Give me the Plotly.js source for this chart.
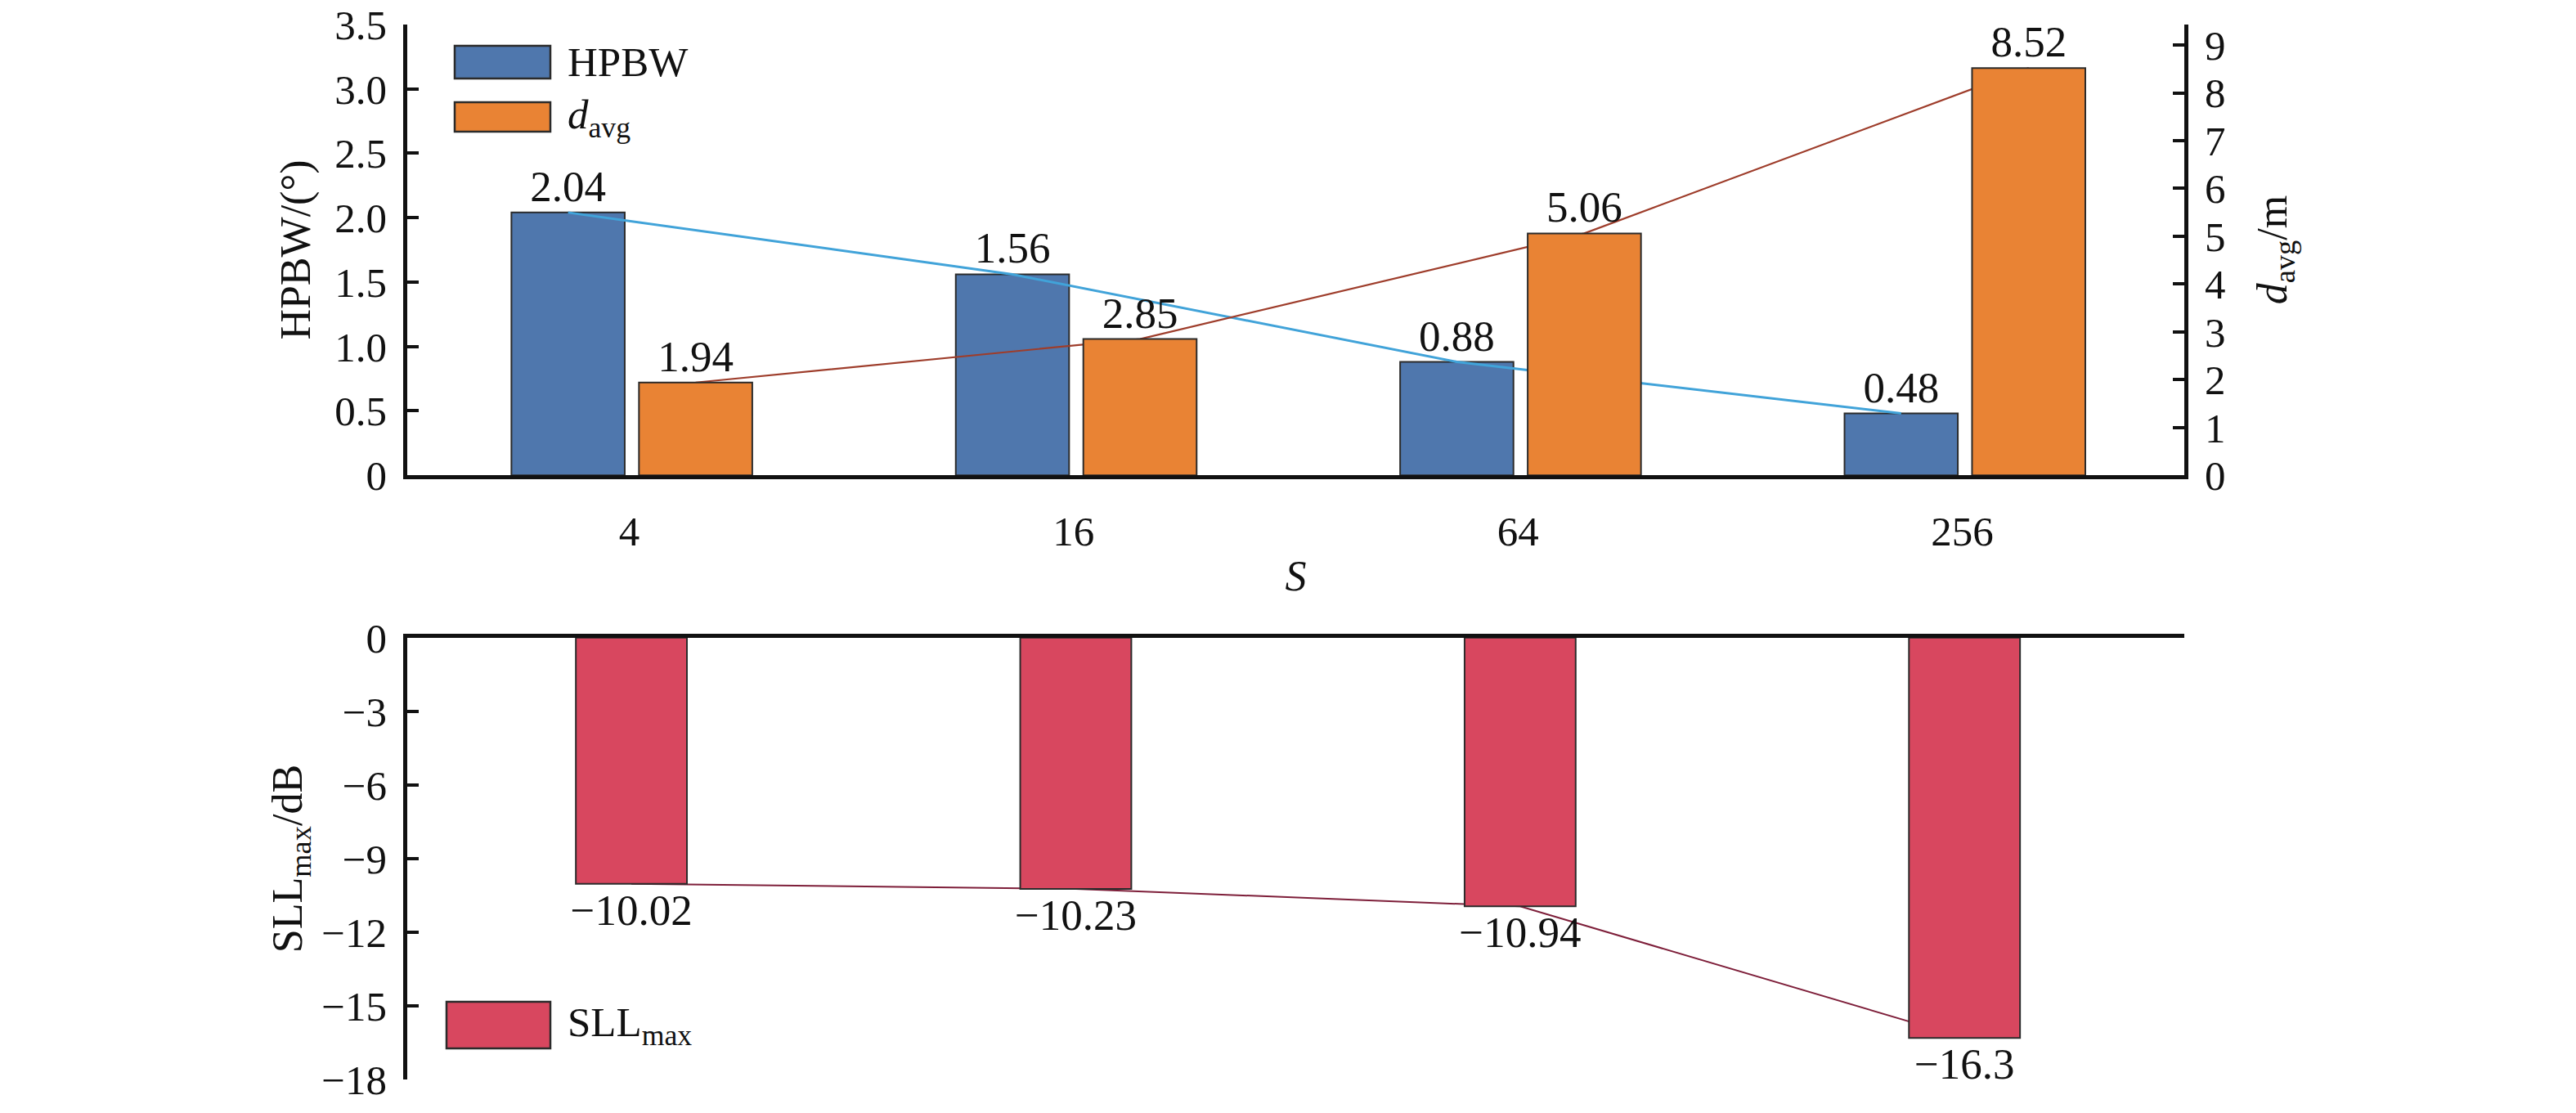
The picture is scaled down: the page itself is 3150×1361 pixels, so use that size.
<!DOCTYPE html>
<html>
<head>
<meta charset="utf-8">
<script src="https://cdn.plot.ly/plotly-3.0.1.min.js"></script>
<style>
  html, body { margin: 0; padding: 0; background: #fff; }
  #plot { width: 3150px; height: 1361px; }
</style>
</head>
<body>
<div id="plot"></div>
<script>
// values
const sizes = ["4", "16", "64", "256"];
const hpbw = [2.04, 1.56, 0.88, 0.48];
const davg = [1.94, 2.85, 5.06, 8.52];
const sllMax = [-10.02, -10.23, -10.94, -16.3];

const hpbwTicks = [0, 0.5, 1, 1.5, 2, 2.5, 3, 3.5];
const hpbwTickText = ["0", "0.5", "1.0", "1.5", "2.0", "2.5", "3.0", "3.5"];
const davgTicks = [0, 1, 2, 3, 4, 5, 6, 7, 8, 9];
const sllTicks = [0, -3, -6, -9, -12, -15, -18];

const FONT = "Liberation Serif, Times New Roman, serif";
const BLUE = "#4f77ad";
const ORANGE = "#e98334";
const RED = "#d8475f";

// bar geometry in category units
const barW = 0.255;
const blueOff = -0.265;
const orangeOff = 0.022;
const redW = 0.25;
const redOff = -0.12;

const idx = sizes.map((_, i) => i);
const minus = (v) => String(v).replace("-", "\u2212");
const labelFont = { family: FONT, size: 53, color: "#111" };

const hpbwBars = {
  type: "bar", x: idx, y: hpbw, xaxis: "x", yaxis: "y",
  width: barW, offset: blueOff,
  marker: { color: BLUE, line: { color: "#2b2b2b", width: 2 } },
  text: hpbw.map((v) => v.toFixed(2)), textposition: "outside",
  textfont: labelFont, cliponaxis: false, constraintext: "none",
  hoverinfo: "skip", showlegend: false,
};

const hpbwLine = {
  type: "scatter", mode: "lines", xaxis: "x", yaxis: "y2",
  x: idx.map((i) => i + blueOff + barW / 2), y: hpbw,
  line: { color: "#41a3d9", width: 3 },
  hoverinfo: "skip", showlegend: false,
};

const davgLine = {
  type: "scatter", mode: "lines", xaxis: "x", yaxis: "y3",
  x: idx.map((i) => i + orangeOff + barW / 2), y: davg,
  line: { color: "#9e3d2b", width: 2.2 },
  hoverinfo: "skip", showlegend: false,
};

const davgBars = {
  type: "bar", x: idx, y: davg, xaxis: "x", yaxis: "y4",
  width: barW, offset: orangeOff,
  marker: { color: ORANGE, line: { color: "#2b2b2b", width: 2 } },
  text: davg.map((v) => v.toFixed(2)), textposition: "outside",
  textfont: labelFont, cliponaxis: false, constraintext: "none",
  hoverinfo: "skip", showlegend: false,
};

const sllLine = {
  type: "scatter", mode: "lines", xaxis: "x2", yaxis: "y5",
  x: idx.map((i) => i + redOff + redW / 2), y: sllMax,
  line: { color: "#7e1f3a", width: 2 },
  hoverinfo: "skip", showlegend: false,
};

const sllBars = {
  type: "bar", x: idx, y: sllMax, xaxis: "x2", yaxis: "y6",
  width: redW, offset: redOff,
  marker: { color: RED, line: { color: "#2b2b2b", width: 2 } },
  text: sllMax.map(minus), textposition: "outside",
  textfont: labelFont, cliponaxis: false, constraintext: "none",
  hoverinfo: "skip", showlegend: false,
};

const xDomain = [0.158, 0.848];
const topDomain = [0.573, 0.978];
const botDomain = [0.03, 0.427];
const catRange = [-0.5, 3.5];
const davgRange = [0, 9.43];

const axisBase = {
  showline: true, linewidth: 4.5, linecolor: "#111",
  showgrid: false, zeroline: false,
  tickfont: { family: FONT, size: 51, color: "#111" },
  ticks: "inside", ticklen: 14, tickwidth: 4, tickcolor: "#111",
  ticklabelstandoff: 10,
};

const titleFont = { family: FONT, size: 52, color: "#111" };

// legend swatches are large boxes in the original, so draw them as shapes
const swatch = (x0, y0, x1, y1, color) => ({
  type: "rect", xref: "paper", yref: "paper",
  x0: x0 / 3150, x1: x1 / 3150, y0: 1 - y1 / 1361, y1: 1 - y0 / 1361,
  fillcolor: color, line: { color: "#2b2b2b", width: 2.5 },
});
const legendText = (x, y, text) => ({
  xref: "paper", yref: "paper", x: x / 3150, y: 1 - y / 1361,
  xanchor: "left", yanchor: "middle", text, showarrow: false,
  font: { family: FONT, size: 51, color: "#111" },
});

const layout = {
  width: 3150, height: 1361,
  margin: { l: 0, r: 0, t: 0, b: 0 },
  paper_bgcolor: "#fff", plot_bgcolor: "rgba(0,0,0,0)",
  font: { family: FONT, color: "#111" },
  barmode: "overlay",
  xaxis: {
    ...axisBase, domain: xDomain, anchor: "y", range: catRange,
    tickvals: idx, ticktext: sizes, ticks: "", ticklabelstandoff: 20,
    title: { text: "<i>S</i>", font: { family: FONT, size: 52, color: "#111" }, standoff: 10 },
  },
  yaxis: {
    ...axisBase, domain: topDomain, anchor: "x", range: [0, 3.5],
    tickvals: hpbwTicks, ticktext: hpbwTickText,
    title: { text: "HPBW/(°)", font: titleFont, standoff: 14 },
  },
  yaxis2: { overlaying: "y", anchor: "x", range: [0, 3.5], visible: false },
  yaxis3: { overlaying: "y", anchor: "x", range: davgRange, visible: false },
  yaxis4: {
    ...axisBase, overlaying: "y", anchor: "x", side: "right", range: davgRange,
    tickvals: davgTicks,
    title: { text: "<i>d</i><sub>avg</sub>/m", font: titleFont, standoff: 40 },
  },
  xaxis2: {
    ...axisBase, domain: xDomain, anchor: "y5", side: "top", range: catRange,
    tickvals: idx, showticklabels: false, ticks: "",
  },
  yaxis5: {
    ...axisBase, domain: botDomain, anchor: "x2", range: [-18, 0],
    tickvals: sllTicks,
    title: { text: "SLL<sub>max</sub>/dB", font: titleFont, standoff: 8 },
  },
  yaxis6: { overlaying: "y5", anchor: "x2", range: [-18, 0], visible: false },
  shapes: [
    swatch(556, 56, 673, 96, BLUE),
    swatch(556, 125, 673, 161, ORANGE),
    swatch(546, 1225, 673, 1282, RED),
  ],
  annotations: [
    legendText(692, 76, "HPBW"),
    legendText(692, 144, "<i>d</i><sub>avg</sub>"),
    legendText(692, 1254, "SLL<sub>max</sub>"),
  ],
};

Plotly.newPlot(
  document.querySelector("#plot"),
  [hpbwBars, hpbwLine, davgLine, davgBars, sllLine, sllBars],
  layout,
  { displayModeBar: false, responsive: false, staticPlot: true }
);
</script>
</body>
</html>
